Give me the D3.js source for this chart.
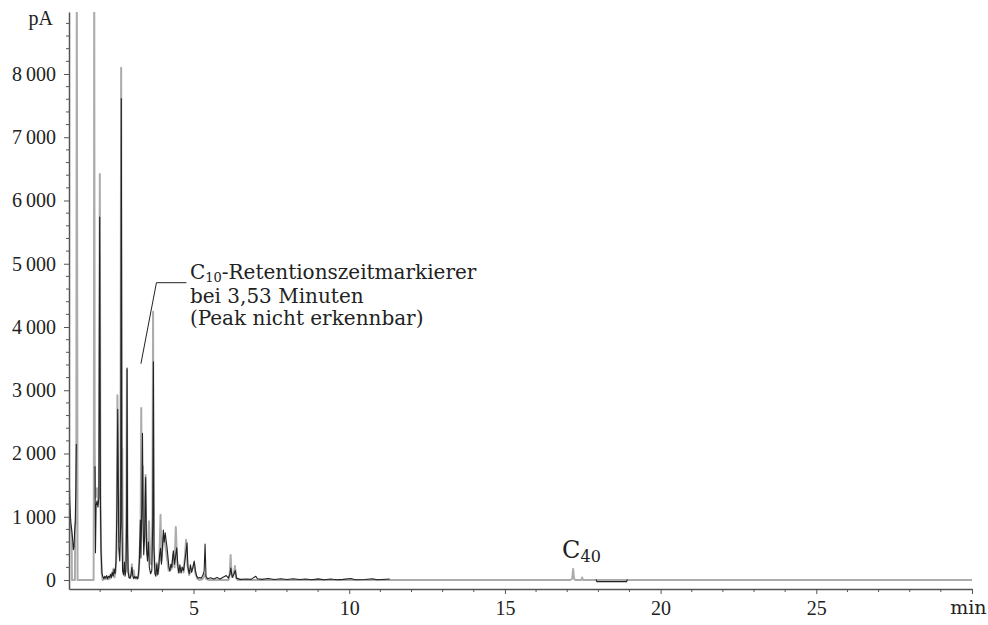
<!DOCTYPE html>
<html>
<head>
<meta charset="utf-8">
<script src="https://cdn.jsdelivr.net/npm/d3@7"></script>
<style>
  body { margin: 0; background: #fff; }
  svg { display: block; }
</style>
</head>
<body>
<div id="chart"></div>
<script>
// Chromatogram traces, [minutes, pA]; null breaks a line
const grayTrace = [
  [1.00, 1260], [1.02, 1150], [1.04, 900], [1.07, 780], [1.085, 700], [1.095, 0],
  [1.19, 0], [1.20, 880], [1.22, 950], [1.235, 2150], [1.25, 9800], [1.275, 0],
  [1.79, 0], [1.80, 2250], [1.81, 9800], [1.825, 2200], [1.84, 1300], [1.87, 1350],
  [1.90, 1450], [1.93, 1250], [1.96, 1400], [1.99, 6420], [2.01, 1300], [2.03, 500],
  [2.05, 100], [2.08, 0], [2.15, 20], [2.25, 10], [2.35, 30], [2.43, 180], [2.46, 40],
  [2.50, 150], [2.53, 500], [2.555, 2920], [2.575, 1500], [2.60, 900], [2.62, 600],
  [2.65, 900], [2.675, 8100], [2.695, 1500], [2.71, 2075], [2.73, 400], [2.76, 150],
  [2.79, 200], [2.82, 300], [2.845, 1200], [2.86, 3320], [2.875, 900], [2.89, 200],
  [2.93, 40], [2.97, 30], [3.00, 100], [3.02, 250], [3.04, 80], [3.08, 150], [3.11, 40],
  [3.16, 20], [3.22, 30], [3.25, 200], [3.28, 600], [3.30, 700], [3.32, 2720],
  [3.345, 1000], [3.37, 1800], [3.40, 600], [3.44, 1000], [3.46, 1660], [3.48, 700],
  [3.51, 400], [3.54, 500], [3.57, 930], [3.60, 300], [3.64, 250], [3.68, 1000],
  [3.70, 4240], [3.72, 600], [3.75, 200], [3.79, 100], [3.82, 270], [3.86, 100],
  [3.90, 300], [3.94, 1030], [3.97, 300], [4.00, 500], [4.04, 700], [4.08, 600],
  [4.12, 450], [4.16, 300], [4.20, 150], [4.25, 160], [4.30, 180], [4.35, 400],
  [4.39, 200], [4.43, 840], [4.47, 300], [4.52, 120], [4.58, 150], [4.63, 200],
  [4.68, 120], [4.72, 350], [4.76, 635], [4.80, 250], [4.86, 80], [4.92, 150],
  [4.98, 200], [5.02, 260], [5.06, 100], [5.12, 20], [5.20, 0], [5.30, 20], [5.36, 100],
  [5.40, 20], [5.50, 0], [6.12, 0], [6.16, 80], [6.19, 395], [6.22, 100], [6.27, 50],
  [6.33, 220], [6.37, 30], [6.42, 0], [17.10, 0], [17.16, 20], [17.19, 175], [17.22, 20],
  [17.26, 0], [17.45, 0], [17.48, 40], [17.51, 0], [30.0, 0]
];

const blackTrace = [
  [1.00, 2230], [1.01, 1600], [1.03, 1150], [1.06, 900], [1.09, 780], [1.12, 620],
  [1.14, 480], [1.16, 520], [1.18, 760], [1.20, 900], [1.22, 1400], [1.235, 2150],
  [1.24, null],
  [1.835, 1800], [1.85, 430], [1.87, 1180], [1.90, 1250], [1.93, 1150], [1.96, 1300],
  [1.985, 5740], [2.01, 1200], [2.03, 430], [2.06, 100], [2.09, 50], [2.12, 20],
  [2.15, 60], [2.18, 30], [2.21, 70], [2.24, 20], [2.27, 60], [2.30, 40], [2.33, 90],
  [2.36, 40], [2.39, 120], [2.42, 60], [2.45, 170], [2.48, 100], [2.51, 300],
  [2.54, 1200], [2.565, 2700], [2.585, 1400], [2.60, 500], [2.63, 300], [2.66, 900],
  [2.68, 7610], [2.70, 900], [2.72, 150], [2.75, 80], [2.78, 280], [2.80, 60],
  [2.83, 150], [2.85, 900], [2.865, 3350], [2.88, 700], [2.90, 120], [2.93, 40],
  [2.96, 30], [2.99, 80], [3.02, 200], [3.05, 60], [3.08, 20], [3.11, 60], [3.14, 30],
  [3.17, 50], [3.20, 20], [3.23, 80], [3.26, 300], [3.29, 950], [3.31, 350],
  [3.34, 1200], [3.36, 2320], [3.38, 900], [3.40, 400], [3.43, 700], [3.46, 1620],
  [3.49, 500], [3.52, 300], [3.55, 600], [3.58, 200], [3.62, 100], [3.66, 150],
  [3.69, 900], [3.71, 3450], [3.73, 500], [3.76, 100], [3.79, 60], [3.82, 250],
  [3.85, 80], [3.88, 200], [3.91, 400], [3.94, 500], [3.97, 250], [4.00, 500],
  [4.03, 790], [4.06, 600], [4.09, 745], [4.12, 620], [4.15, 510], [4.18, 350],
  [4.21, 200], [4.24, 140], [4.27, 250], [4.30, 200], [4.35, 460], [4.39, 250],
  [4.43, 400], [4.46, 510], [4.50, 200], [4.53, 110], [4.56, 240], [4.60, 110],
  [4.64, 200], [4.68, 150], [4.72, 300], [4.76, 450], [4.79, 590], [4.82, 200],
  [4.86, 100], [4.90, 240], [4.94, 120], [4.98, 200], [5.02, 300], [5.06, 150],
  [5.10, 60], [5.15, 30], [5.20, 40], [5.25, 30], [5.30, 80], [5.34, 140], [5.37, 570],
  [5.40, 60], [5.45, 20], [5.55, 35], [5.65, 15], [5.75, 40], [5.85, 15], [5.95, 45],
  [6.05, 70], [6.12, 30], [6.17, 100], [6.20, 190], [6.24, 40], [6.30, 100],
  [6.34, 150], [6.38, 30], [6.50, 10], [6.70, 15], [6.85, 10], [6.95, 45], [7.00, 60],
  [7.05, 20], [7.20, 10], [7.40, 25], [7.60, 8], [7.80, 20], [8.00, 8], [8.20, 20],
  [8.40, 8], [8.60, 15], [8.80, 5], [9.00, 18], [9.20, 5], [9.40, 15], [9.60, 5],
  [9.80, 10], [10.05, 25], [10.20, 5], [10.50, 8], [10.75, 20], [10.90, 5],
  [11.30, 15], [11.40, null],
  [17.93, 10], [17.95, -25], [18.91, -25], [18.93, 10]
];

// axis ticks
const yTicks = [0, 1000, 2000, 3000, 4000, 5000, 6000, 7000, 8000];
const yMinorTicks = d3.range(200, 8900, 200).filter(v => v % 1000 !== 0);
const xTicks = [5, 10, 15, 20, 25, 30];
const xMinorTicks = [2, 3, 4, 6, 7, 8, 9, 11, 12, 13, 14, 16, 17, 18, 19, 21, 22, 23, 24, 26, 27, 28, 29];

const width = 988, height = 625;
const axisColor = "#555";

const svg = d3.select("#chart").append("svg")
    .attr("width", width)
    .attr("height", height);

var x = d3.scaleLinear().domain([1, 30]).range([69, 972]);
var y = d3.scaleLinear().domain([-142, 8980]).range([589, 12]);

// Clip the traces to the plot box
svg.append("clipPath").attr("id", "plot")
    .append("rect")
    .attr("x", x.range()[0]).attr("y", y.range()[1])
    .attr("width", x.range()[1] - x.range()[0])
    .attr("height", y.range()[0] - y.range()[1]);

var line = d3.line()
    .defined(d => d[1] !== null)
    .x(d => x(d[0]))
    .y(d => y(d[1]));

var traces = svg.append("g").attr("clip-path", "url(#plot)");

traces.append("path")
    .datum(grayTrace)
    .attr("fill", "none")
    .attr("stroke", "#acacac")
    .attr("stroke-width", 2)
    .attr("stroke-linejoin", "round")
    .attr("d", line);

traces.append("path")
    .datum(blackTrace)
    .attr("fill", "none")
    .attr("stroke", "#222")
    .attr("stroke-width", 1.1)
    .attr("stroke-linejoin", "round")
    .attr("d", line);

// Y axis
var yAxis = svg.append("g")
    .attr("transform", "translate(" + x.range()[0] + ",0)")
    .call(d3.axisLeft(y).tickValues(yTicks).tickSize(5).tickPadding(8).tickSizeOuter(0)
        .tickFormat(d => d3.format(",")(d).replace(",", "\u2009")));

svg.append("g")
    .attr("transform", "translate(" + x.range()[0] + ",0)")
    .selectAll("line")
    .data(yMinorTicks)
    .enter().append("line")
    .attr("x1", -3).attr("x2", 0)
    .attr("y1", d => y(d)).attr("y2", d => y(d))
    .attr("stroke", axisColor);

// X axis
var xAxis = svg.append("g")
    .attr("transform", "translate(0," + y.range()[0] + ")")
    .call(d3.axisBottom(x).tickValues(xTicks).tickSize(5).tickPadding(7).tickSizeOuter(0)
        .tickFormat(d => d === 30 ? "min" : d));

svg.append("g")
    .attr("transform", "translate(0," + y.range()[0] + ")")
    .selectAll("line")
    .data(xMinorTicks)
    .enter().append("line")
    .attr("x1", d => x(d)).attr("x2", d => x(d))
    .attr("y1", 0).attr("y2", 3)
    .attr("stroke", axisColor);

[yAxis, xAxis].forEach(function(g) {
    g.select(".domain").attr("stroke", axisColor).attr("stroke-width", 1.5);
    g.selectAll(".tick line").attr("stroke", axisColor);
    g.selectAll(".tick text")
        .attr("fill", "#222")
        .style("font-family", "'Liberation Serif', serif")
        .style("font-size", "20px");
});
// keep the unit label inside the picture
xAxis.selectAll(".tick text").filter(d => d === 30)
    .attr("text-anchor", "end")
    .attr("x", width - 2 - x(30))
    .style("font-family", "'DejaVu Serif', serif")
    .style("font-size", "19px");

// unit label
svg.append("text")
    .attr("x", 53).attr("y", 25)
    .attr("text-anchor", "end")
    .attr("fill", "#222")
    .style("font-family", "'Liberation Serif', serif")
    .style("font-size", "20px")
    .text("pA");

// C10 annotation
var ax = x(3.31), ay = y(3420);
svg.append("polyline")
    .attr("points", [[ax, ay], [ax + 15.5, ay - 81], [ax + 45.5, ay - 81]].join(" "))
    .attr("fill", "none")
    .attr("stroke", "#222")
    .attr("stroke-width", 1);

var note = svg.append("text")
    .attr("fill", "#222")
    .style("font-family", "'DejaVu Serif', serif")
    .style("font-size", "20px");

var l1 = note.append("tspan").attr("x", ax + 49).attr("y", ay - 85);
l1.append("tspan").text("C");
l1.append("tspan").attr("dy", 3).style("font-size", "13px").text("10");
l1.append("tspan").attr("dy", -3).text("-Retentionszeitmarkierer");
note.append("tspan").attr("x", ax + 49).attr("y", ay - 61).text("bei 3,53 Minuten");
note.append("tspan").attr("x", ax + 49).attr("y", ay - 39).text("(Peak nicht erkennbar)");

// C40 label
var c40 = svg.append("text")
    .attr("x", x(17.19) - 11).attr("y", y(0) - 22)
    .attr("fill", "#222")
    .style("font-family", "'DejaVu Serif', serif")
    .style("font-size", "24px");
c40.append("tspan").text("C");
c40.append("tspan").attr("dy", 4).style("font-size", "16px").text("40");
</script>
</body>
</html>
